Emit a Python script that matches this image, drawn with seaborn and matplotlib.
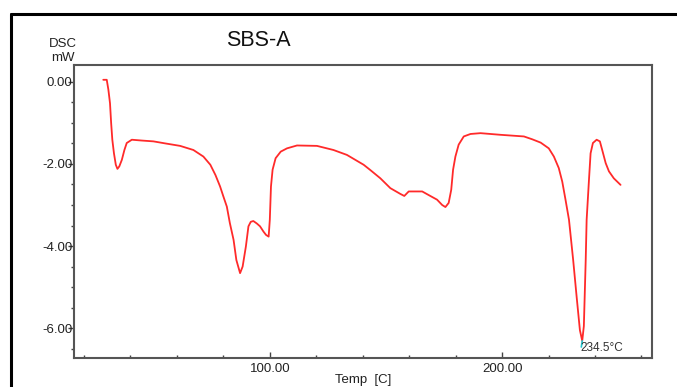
import numpy as np
import pandas as pd
import matplotlib
matplotlib.use("Agg")
import matplotlib.pyplot as plt
import matplotlib.ticker as mticker
from matplotlib.lines import Line2D
import seaborn as sns

# --- DATA ---
temp = [28.3, 29.8, 30.5, 31.2, 31.7, 32.2, 32.9, 33.7, 34.4, 35.2, 36.3, 37.4,
        38.4, 40.6, 44.9, 49.9, 55.0, 61.4, 67.1, 71.4, 74.4, 76.6, 78.6, 80.0,
        81.5, 82.8, 84.4, 85.6, 87.2, 88.3, 89.7, 90.8, 91.8, 92.9, 94.4, 95.8,
        97.3, 98.4, 99.5, 100.0, 100.5, 101.2, 102.5, 104.7, 107.4, 111.7, 120.3,
        127.4, 133.2, 140.4, 143.3, 147.6, 151.9, 156.2, 157.9, 159.8, 162.7,
        165.6, 169.1, 172.0, 174.2, 175.6, 177.0, 178.1, 178.9, 179.9, 181.3,
        183.5, 186.4, 190.7, 199.3, 209.4, 213.0, 216.6, 220.1, 222.3, 224.4,
        225.9, 227.3, 228.8, 230.6, 232.1, 233.5, 234.5, 235.2, 236.0, 236.4,
        237.4, 238.1, 239.1, 240.7, 242.1, 243.1, 244.6, 246.0, 248.1, 251.0]
dsc = [0.05, 0.05, -0.19, -0.52, -1.01, -1.41, -1.74, -2.02, -2.12, -2.06, -1.90,
       -1.66, -1.49, -1.41, -1.43, -1.45, -1.50, -1.56, -1.66, -1.82, -2.02, -2.27,
       -2.55, -2.79, -3.04, -3.44, -3.85, -4.34, -4.66, -4.50, -4.01, -3.52, -3.41,
       -3.39, -3.45, -3.52, -3.65, -3.73, -3.77, -3.36, -2.55, -2.14, -1.86, -1.70,
       -1.62, -1.55, -1.56, -1.66, -1.78, -2.02, -2.15, -2.35, -2.59, -2.73, -2.78,
       -2.67, -2.67, -2.67, -2.78, -2.87, -3.00, -3.05, -2.95, -2.63, -2.14, -1.82,
       -1.53, -1.33, -1.27, -1.25, -1.29, -1.33, -1.40, -1.48, -1.62, -1.82, -2.10,
       -2.43, -2.87, -3.36, -4.34, -5.24, -6.05, -6.31, -5.95, -4.34, -3.36, -2.39,
       -1.74, -1.49, -1.41, -1.45, -1.66, -1.98, -2.18, -2.35, -2.51]

peak_temp = 234.5
peak_dsc = -6.31
peak_label = "234.5°C"
y_ticks = [0.0, -2.0, -4.0, -6.0]
x_ticks = [100, 200]

df = pd.DataFrame({"Temp": temp, "DSC": dsc})

# --- STYLE ---
sns.set_theme(style="white")
plt.rcParams['font.family'] = ['Liberation Sans', 'DejaVu Sans']

fig = plt.figure(figsize=(6.77, 3.87), dpi=100)
ax = fig.add_axes([0.1093, 0.0757, 0.8533, 0.7563])

sns.lineplot(data=df, x="Temp", y="DSC", sort=False, estimator=None,
             color="#ff2a2a", linewidth=1.3, ax=ax)

ax.set_xlim(15.7, 264.4)
ax.set_ylim(-6.72, 0.41)

ax.xaxis.set_major_locator(mticker.FixedLocator(x_ticks))
ax.xaxis.set_minor_locator(mticker.MultipleLocator(20))
ax.yaxis.set_major_locator(mticker.FixedLocator(y_ticks))
ax.yaxis.set_minor_locator(mticker.MultipleLocator(0.5))
ax.xaxis.set_major_formatter(mticker.FuncFormatter(lambda v, _: f"{v:.2f}"))
ax.yaxis.set_major_formatter(mticker.FuncFormatter(lambda v, _: f"{v:.2f}"))

ax.tick_params(axis="both", which="both", colors="#444444", labelcolor="#222222",
               labelsize=9.5, bottom=True, left=True)
ax.tick_params(axis="y", which="major", direction="out", length=4, width=1, pad=-3)
ax.tick_params(axis="y", which="minor", direction="out", length=2, width=1)
ax.tick_params(axis="x", which="major", direction="in", length=4, width=1, pad=4)
ax.tick_params(axis="x", which="minor", direction="in", length=2, width=1)

for s in ax.spines.values():
    s.set_color("#555555")
    s.set_linewidth(1.5)

ax.set_xlabel("Temp  [C]", fontsize=9.5, color="#222222", labelpad=-1)
ax.set_ylabel("")

# peak annotation
ax.plot([peak_temp - 0.4, peak_temp], [peak_dsc - 0.15, peak_dsc], color="#20c8d0", linewidth=1.2)
ax.text(peak_temp - 0.6, -6.48, peak_label, fontsize=8.5, color="#333333", ha="left", va="center")

# title and axis unit text
fig.text(258 / 677, 1 - 40 / 387, "SBS-A", fontsize=15.5, ha="center", va="center", color="#111111")
fig.text(63 / 677, 1 - 44 / 387, "DSC", fontsize=9.5, ha="center", va="center", color="#222222")
fig.text(63 / 677, 1 - 58 / 387, "mW", fontsize=9.5, ha="center", va="center", color="#222222")

# outer frame (left and top edges)
fig.add_artist(Line2D([11 / 677, 11 / 677], [0, 1 - 14 / 387], color="black", linewidth=2.2,
                      transform=fig.transFigure))
fig.add_artist(Line2D([11 / 677, 1], [1 - 14 / 387, 1 - 14 / 387], color="black", linewidth=2.2,
                      transform=fig.transFigure))

fig.savefig("out.png", dpi=100)
